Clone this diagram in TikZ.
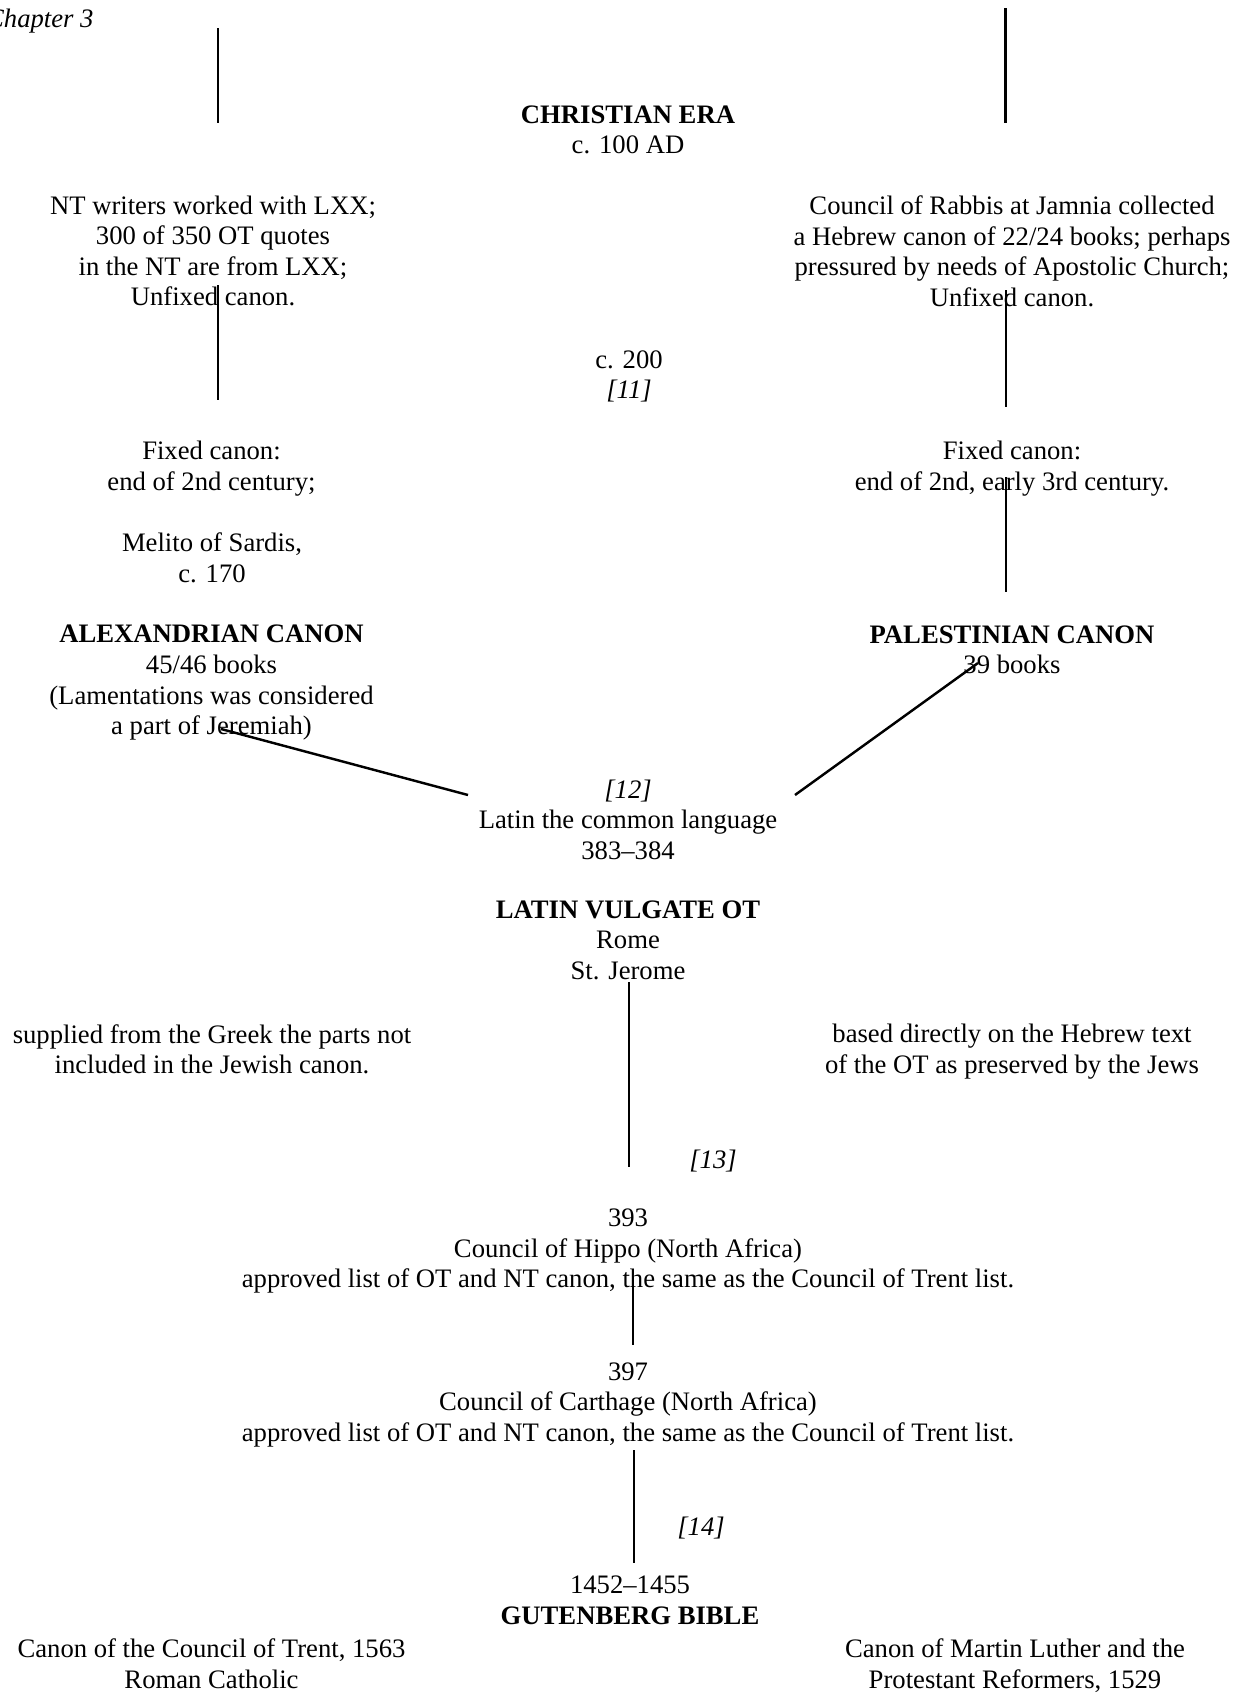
\documentclass[tikz,border=0pt]{standalone}
\usepackage{fontspec}
\setmainfont{Liberation Serif}
\begin{document}
\begin{tikzpicture}[x=0.45pt,y=-0.45pt,
  txt/.style={align=center,inner sep=0pt,font=\fontsize{12}{13.73}\selectfont,
    execute at begin node=\strut,execute at end node=\strut},
  reftxt/.style={txt,font=\fontsize{12}{13.73}\selectfont\itshape},
  conn/.style={line width=1.1pt}]
\useasboundingbox (0,0) rectangle (1241,1693);
% texts
\node[reftxt,anchor=east] (chap) at (94,21) {Chapter 3};
\node[txt] (era) at (628,134) {\textbf{CHRISTIAN ERA}\\c. 100 AD};
\node[txt] (ntw) at (213,255.5) {NT writers worked with LXX;\\300 of 350 OT quotes\\in the NT are from LXX;\\Unfixed canon.};
\node[txt] (rab) at (1012,255.5) {Council of Rabbis at Jamnia collected\\a Hebrew canon of 22/24 books; perhaps\\pressured by needs of Apostolic Church;\\Unfixed canon.};
\node[txt] (c200) at (629,379) {c. 200\\\textit{[11]}};
\node[txt] (lfix) at (211.5,470.5) {Fixed canon:\\end of 2nd century;};
\node[txt] (melito) at (212,562) {Melito of Sardis,\\c. 170};
\node[txt] (alex) at (211.5,684.5) {\textbf{ALEXANDRIAN CANON}\\45/46 books\\(Lamentations was considered\\a part of Jeremiah)};
\node[txt] (rfix) at (1012,470.5) {Fixed canon:\\end of 2nd, early 3rd century.};
\node[txt] (pal) at (1012,654) {\textbf{PALESTINIAN CANON}\\39 books};
\node[txt] (lat) at (628,824) {\textit{[12]}\\Latin the common language\\383–384};
\node[txt] (vul) at (628,944.5) {\textbf{LATIN VULGATE OT}\\Rome\\St. Jerome};
\node[txt] (supp) at (212,1053.5) {supplied from the Greek the parts not\\included in the Jewish canon.};
\node[txt] (based) at (1012,1053.5) {based directly on the Hebrew text\\of the OT as preserved by the Jews};
\node[reftxt] (t13) at (713,1162) {[13]};
\node[txt] (hip) at (628,1253) {393\\Council of Hippo (North Africa)\\approved list of OT and NT canon, the same as the Council of Trent list.};
\node[txt] (car) at (628,1406.5) {397\\Council of Carthage (North Africa)\\approved list of OT and NT canon, the same as the Council of Trent list.};
\node[reftxt] (t14) at (701,1529) {[14]};
\node[txt] (gut) at (630,1604.5) {1452–1455\\\textbf{GUTENBERG BIBLE}};
\node[txt] (trent) at (211.5,1668) {Canon of the Council of Trent, 1563\\Roman Catholic};
\node[txt] (luth) at (1015,1668) {Canon of Martin Luther and the\\Protestant Reformers, 1529};
% connector end points
\coordinate (a1) at (218,28);     \coordinate (a2) at (218,123);
\coordinate (b1) at (1005.5,8);   \coordinate (b2) at (1005.5,123);
\coordinate (c1) at (218,285);    \coordinate (c2) at (218,400);
\coordinate (d1) at (1006,290);   \coordinate (d2) at (1006,407);
\coordinate (e1) at (1006,477);   \coordinate (e2) at (1006,592);
\coordinate (f1) at (221,729);    \coordinate (f2) at (468,795);
\coordinate (g1) at (978,663);    \coordinate (g2) at (795,795);
\coordinate (h1) at (629,982);    \coordinate (h2) at (629,1167);
\coordinate (i1) at (633,1287);   \coordinate (i2) at (633,1345);
\coordinate (j1) at (634,1450);   \coordinate (j2) at (634,1563);
% connectors
\draw[conn] (a1) -- (a2);
\draw[conn] (b1) -- (b2);
\draw[conn] (c1) -- (c2);
\draw[conn] (d1) -- (d2);
\draw[conn] (e1) -- (e2);
\draw[conn] (f1) -- (f2);
\draw[conn] (g1) -- (g2);
\draw[conn] (h1) -- (h2);
\draw[conn] (i1) -- (i2);
\draw[conn] (j1) -- (j2);
\end{tikzpicture}
\end{document}
